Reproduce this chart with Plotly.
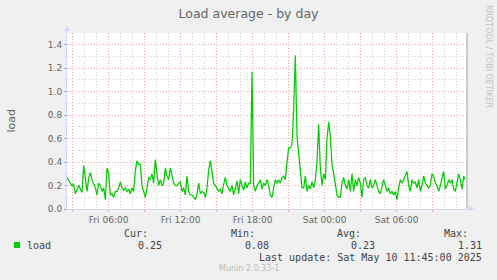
import pandas as pd
import plotly.graph_objects as go

# ---- data (5-min-ish samples, step 500 s) ----
start_time = "2025-05-09 02:32:00"
step = "500s"
load = [
    0.27, 0.24, 0.22, 0.20, 0.21, 0.13, 0.17, 0.20, 0.17, 0.14,
    0.37, 0.25, 0.15, 0.26, 0.31, 0.25, 0.22, 0.18, 0.12, 0.22,
    0.20, 0.15, 0.18, 0.08, 0.35, 0.30, 0.12, 0.13, 0.10, 0.15,
    0.15, 0.18, 0.23, 0.18, 0.16, 0.18, 0.15, 0.17, 0.13, 0.18,
    0.15, 0.33, 0.41, 0.38, 0.38, 0.20, 0.15, 0.10, 0.18, 0.27,
    0.25, 0.30, 0.22, 0.42, 0.30, 0.20, 0.25, 0.20, 0.22, 0.35,
    0.28, 0.25, 0.35, 0.28, 0.22, 0.20, 0.20, 0.22, 0.23, 0.15,
    0.18, 0.12, 0.28, 0.15, 0.12, 0.12, 0.10, 0.08, 0.13, 0.22,
    0.13, 0.15, 0.14, 0.10, 0.18, 0.33, 0.41, 0.30, 0.22, 0.20,
    0.18, 0.15, 0.17, 0.13, 0.21, 0.27, 0.20, 0.18, 0.15, 0.20,
    0.12, 0.18, 0.24, 0.13, 0.25, 0.20, 0.16, 0.23, 0.18, 0.22,
    # second half
    0.22, 1.17, 0.20, 0.15, 0.20, 0.22, 0.25, 0.17, 0.22, 0.20,
    0.25, 0.20, 0.12, 0.10, 0.17, 0.25, 0.22, 0.25, 0.22, 0.27,
    0.28, 0.25, 0.40, 0.52, 0.52, 0.55, 0.85, 1.31, 0.62, 0.45,
    0.28, 0.18, 0.18, 0.28, 0.15, 0.20, 0.17, 0.23, 0.18, 0.25,
    0.40, 0.72, 0.35, 0.20, 0.30, 0.25, 0.60, 0.74, 0.62, 0.38,
    0.30, 0.20, 0.12, 0.10, 0.10, 0.22, 0.27, 0.20, 0.17, 0.25,
    0.15, 0.30, 0.15, 0.25, 0.20, 0.27, 0.22, 0.10, 0.25, 0.27,
    0.20, 0.18, 0.25, 0.18, 0.20, 0.25, 0.20, 0.15, 0.13, 0.18,
    0.25, 0.20, 0.15, 0.18, 0.13, 0.15, 0.12, 0.15, 0.08, 0.18,
    0.25, 0.22, 0.25, 0.28, 0.32, 0.20, 0.15, 0.25, 0.22, 0.23,
    0.18, 0.25, 0.15, 0.20, 0.28, 0.22, 0.20, 0.18, 0.20, 0.30,
    0.28, 0.22, 0.20, 0.15, 0.20, 0.25, 0.32, 0.17, 0.20, 0.25,
    0.22, 0.25, 0.17, 0.15, 0.22, 0.30, 0.25, 0.17, 0.28, 0.25,
]
x_range = ["2025-05-09 02:32:00", "2025-05-10 11:52:00"]
major_tick_start = "2025-05-09 03:00"
major_tick_labels = ["", "Fri 06:00", "", "Fri 12:00", "", "Fri 18:00",
                     "", "Sat 00:00", "", "Sat 06:00", "", ""]
minor_tick_start = "2025-05-09 03:00"
series_name = "load"
stat_labels = ["Cur:", "Min:", "Avg:", "Max:"]
stat_values = ["0.25", "0.08", "0.23", "1.31"]
title_text = "Load average - by day"
y_title = "load"
last_update = "Last update: Sat May 10 11:45:00 2025"
version_text = "Munin 2.0.33-1"
watermark = "RRDTOOL / TOBI OETIKER"

times = pd.date_range(start_time, periods=len(load), freq=step)
major_ticks = pd.date_range(major_tick_start, periods=len(major_tick_labels), freq="3h")
minor_ticks = pd.date_range(minor_tick_start, periods=34, freq="1h")

W, H = 497, 280
ML, MR, MT, MB = 67, 30, 33, 71
PW, PH = W - ML - MR, H - MT - MB

def px(xp):
    return (xp - ML) / PW

def py(yp):
    return (H - MB - yp) / PH

FONT = "DejaVu Sans"
MONO = "DejaVu Sans Mono"
TXT = "#666666"
AXIS = "#CFD6F8"
GRID = "#D2D2D2"
MGRID = "#F0A3A3"
DASH = "1px,2px"

fig = go.Figure()
fig.add_trace(go.Scatter(x=times, y=load, mode="lines", name=series_name,
                         line=dict(color="#00CC00", width=1.25), hoverinfo="skip"))

fig.update_layout(
    width=W, height=H,
    margin=dict(l=ML, r=MR, t=MT, b=MB, pad=0),
    paper_bgcolor="#F0F0F0", plot_bgcolor="#FFFFFF",
    showlegend=False,
    font=dict(family=FONT, color=TXT, size=9),
    title=dict(text=title_text, x=0.5, xref="container", xanchor="center",
               y=1 - 13.5 / H, yref="container", yanchor="middle",
               font=dict(family=FONT, size=12.5, color=TXT)),
)

fig.update_xaxes(
    type="date", range=x_range,
    tickmode="array", tickvals=major_ticks, ticktext=major_tick_labels,
    showgrid=True, gridcolor=MGRID, griddash=DASH, gridwidth=1,
    ticks="outside", ticklen=2, tickcolor=MGRID,
    tickfont=dict(family=FONT, size=9, color=TXT),
    showline=True, linecolor=AXIS, linewidth=1, zeroline=False,
    minor=dict(tickmode="array", tickvals=minor_ticks, showgrid=True,
               gridcolor=GRID, griddash=DASH, gridwidth=1, ticks=""),
)
fig.update_yaxes(
    range=[0, 1.5], tick0=0, dtick=0.2, tickformat=".1f",
    showgrid=True, gridcolor=MGRID, griddash=DASH, gridwidth=1,
    ticks="outside", ticklen=2, tickcolor="#AAAAAA",
    tickfont=dict(family=FONT, size=9, color=TXT),
    showline=True, linecolor=AXIS, linewidth=1, zeroline=False,
    minor=dict(tick0=0, dtick=0.1, showgrid=True, gridcolor=GRID,
               griddash=DASH, gridwidth=1, ticks=""),
)

shapes = [
    # right frame line
    dict(type="line", xref="paper", yref="paper", x0=1, x1=1, y0=0, y1=1,
         line=dict(color="#A0A0A0", width=1)),
    # y-axis arrow
    dict(type="line", xref="paper", yref="paper", x0=0, x1=0, y0=1, y1=py(30),
         line=dict(color=AXIS, width=1)),
    dict(type="path", xref="paper", yref="paper",
         path=f"M {px(64)},{py(31)} L {px(67)},{py(26.5)} L {px(70)},{py(31)} Z",
         fillcolor=AXIS, line=dict(color=AXIS, width=0)),
    # x-axis arrow
    dict(type="line", xref="paper", yref="paper", x0=1, x1=px(470), y0=0, y1=0,
         line=dict(color=AXIS, width=1)),
    dict(type="path", xref="paper", yref="paper",
         path=f"M {px(469)},{py(205.5)} L {px(474)},{py(208.5)} L {px(469)},{py(211.5)} Z",
         fillcolor=AXIS, line=dict(color=AXIS, width=0)),
    # legend swatch
    dict(type="rect", xref="paper", yref="paper",
         x0=px(14), x1=px(20), y0=py(248), y1=py(242),
         fillcolor="#00CC00", line=dict(width=0)),
]
fig.update_layout(shapes=shapes)

ann = []
ann.append(dict(text=y_title, x=px(10.5), y=0.5, xref="paper", yref="paper",
                textangle=-90, showarrow=False, xanchor="center", yanchor="middle",
                font=dict(family=FONT, size=11, color=TXT)))
ann.append(dict(text=watermark, x=px(489), y=py(56), xref="paper", yref="paper",
                textangle=90, showarrow=False, xanchor="center", yanchor="middle",
                font=dict(family=FONT, size=8, color="#C4C4C4")))
ann.append(dict(text=series_name, x=px(25), y=py(245.3), xref="paper", yref="paper",
                showarrow=False, xanchor="left", yanchor="middle",
                font=dict(family=MONO, size=10, color="#444444")))
label_right = [150, 257, 363, 470]
value_right = [164, 271, 377, 484]
for lab, val, lr, vr in zip(stat_labels, stat_values, label_right, value_right):
    ann.append(dict(text=lab, x=px(lr), y=py(233.7), xref="paper", yref="paper",
                    showarrow=False, xanchor="right", yanchor="middle",
                    font=dict(family=MONO, size=10, color="#444444")))
    ann.append(dict(text=val, x=px(vr), y=py(245.3), xref="paper", yref="paper",
                    showarrow=False, xanchor="right", yanchor="middle",
                    font=dict(family=MONO, size=10, color="#444444")))
ann.append(dict(text=last_update, x=px(484), y=py(257.3), xref="paper", yref="paper",
                showarrow=False, xanchor="right", yanchor="middle",
                font=dict(family=MONO, size=10, color="#444444")))
ann.append(dict(text=version_text, x=px(248.5), y=py(268.7), xref="paper", yref="paper",
                showarrow=False, xanchor="center", yanchor="middle",
                font=dict(family=FONT, size=8, color="#BBBBBB")))
fig.update_layout(annotations=ann)

fig.write_html("out.html")
